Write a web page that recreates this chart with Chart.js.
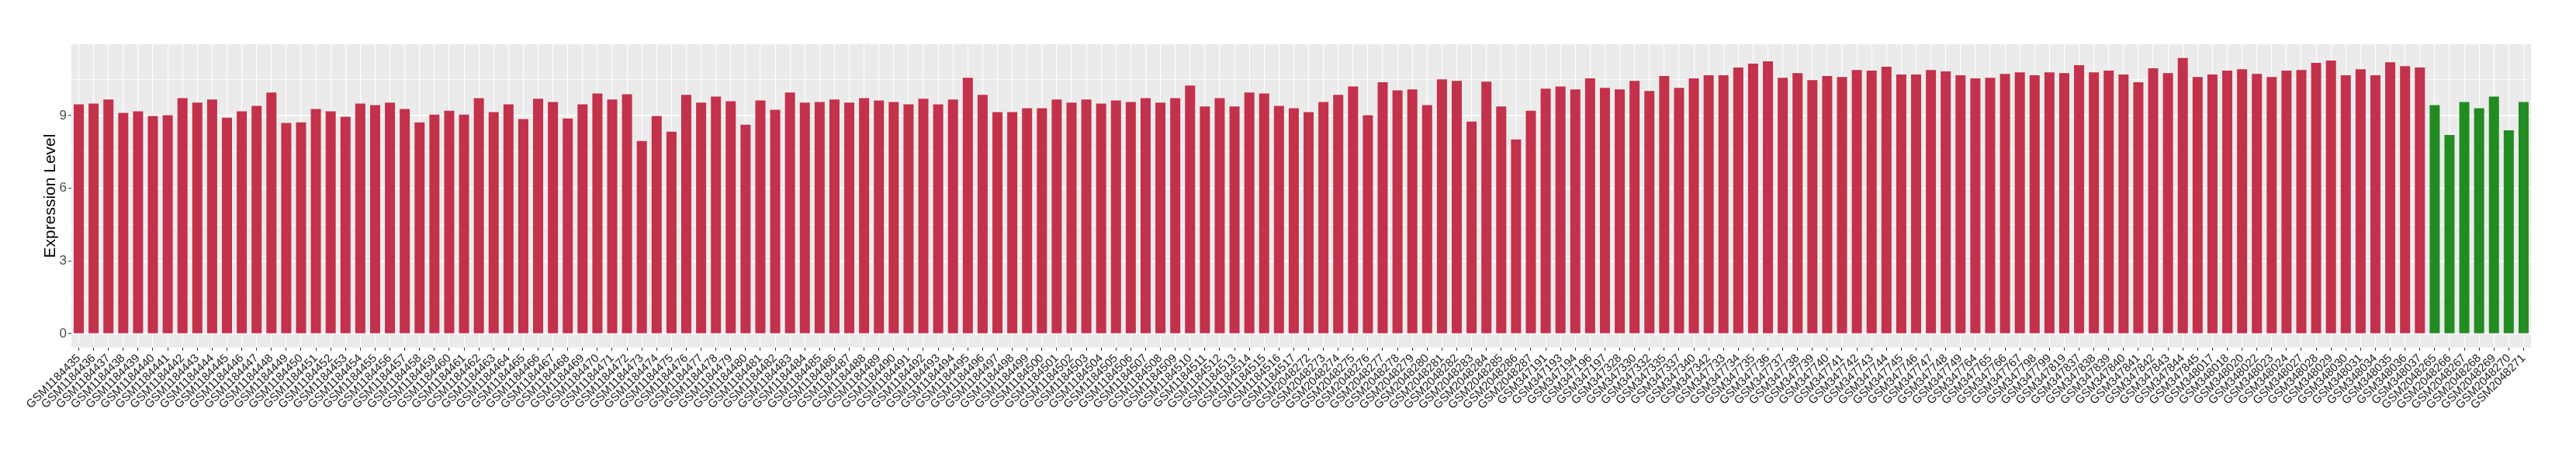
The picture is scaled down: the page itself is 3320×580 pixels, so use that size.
<!DOCTYPE html>
<html lang="en">
<head>
    <meta charset="UTF-8">
    <title>Expression Level</title>
    <script src="https://cdn.jsdelivr.net/npm/chart.js"></script>
    <style>
        body { margin: 0; background: #fff; }
        canvas { display: block; }
    </style>
</head>
<body>
    <canvas id="exprChart" width="3320" height="580"></canvas>

    <script>
        // sample ids, in plot order
        const tumorSamples = [
            'GSM1184435','GSM1184436','GSM1184437','GSM1184438','GSM1184439','GSM1184440','GSM1184441','GSM1184442','GSM1184443','GSM1184444',
            'GSM1184445','GSM1184446','GSM1184447','GSM1184448','GSM1184449','GSM1184450','GSM1184451','GSM1184452','GSM1184453','GSM1184454',
            'GSM1184455','GSM1184456','GSM1184457','GSM1184458','GSM1184459','GSM1184460','GSM1184461','GSM1184462','GSM1184463','GSM1184464',
            'GSM1184465','GSM1184466','GSM1184467','GSM1184468','GSM1184469','GSM1184470','GSM1184471','GSM1184472','GSM1184473','GSM1184474',
            'GSM1184475','GSM1184476','GSM1184477','GSM1184478','GSM1184479','GSM1184480','GSM1184481','GSM1184482','GSM1184483','GSM1184484',
            'GSM1184485','GSM1184486','GSM1184487','GSM1184488','GSM1184489','GSM1184490','GSM1184491','GSM1184492','GSM1184493','GSM1184494',
            'GSM1184495','GSM1184496','GSM1184497','GSM1184498','GSM1184499','GSM1184500','GSM1184501','GSM1184502','GSM1184503','GSM1184504',
            'GSM1184505','GSM1184506','GSM1184507','GSM1184508','GSM1184509','GSM1184510','GSM1184511','GSM1184512','GSM1184513','GSM1184514',
            'GSM1184515','GSM1184516','GSM1184517',
            'GSM2048272','GSM2048273','GSM2048274','GSM2048275','GSM2048276','GSM2048277','GSM2048278','GSM2048279','GSM2048280','GSM2048281',
            'GSM2048282','GSM2048283','GSM2048284','GSM2048285','GSM2048286','GSM2048287',
            'GSM347191','GSM347193','GSM347194','GSM347196','GSM347197','GSM347328','GSM347330','GSM347332','GSM347335','GSM347337',
            'GSM347340','GSM347342','GSM347733','GSM347734','GSM347735','GSM347736','GSM347737','GSM347738','GSM347739','GSM347740',
            'GSM347741','GSM347742','GSM347743','GSM347744','GSM347745','GSM347746','GSM347747','GSM347748','GSM347749','GSM347764',
            'GSM347765','GSM347766','GSM347767','GSM347798','GSM347799','GSM347819','GSM347837','GSM347838','GSM347839','GSM347840',
            'GSM347841','GSM347842','GSM347843','GSM347844','GSM347845','GSM348017','GSM348018','GSM348020','GSM348022','GSM348023',
            'GSM348024','GSM348027','GSM348028','GSM348029','GSM348030','GSM348031','GSM348034','GSM348035','GSM348036','GSM348037'
        ];
        const normalSamples = ['GSM2048265','GSM2048266','GSM2048267','GSM2048268','GSM2048269','GSM2048270','GSM2048271'];

        const tumorValues = [
            9.46, 9.49, 9.66, 9.11, 9.17, 8.98, 9.01, 9.72, 9.53, 9.66, 8.91, 9.17, 9.40, 9.95, 8.69, 8.72, 9.27,
            9.17, 8.95, 9.49, 9.43, 9.53, 9.27, 8.72, 9.04, 9.20, 9.04, 9.72, 9.14, 9.46, 8.85, 9.69, 9.56, 8.88,
            9.46, 9.91, 9.66, 9.88, 7.95, 8.98, 8.33, 9.85, 9.53, 9.78, 9.59, 8.62, 9.62, 9.24, 9.95, 9.53,
            9.56, 9.66, 9.53, 9.72, 9.62, 9.56, 9.46, 9.69, 9.46, 9.66, 10.56, 9.85, 9.14, 9.14, 9.30, 9.30,
            9.66, 9.53, 9.66, 9.49, 9.62, 9.56, 9.72, 9.53, 9.72, 10.24, 9.37, 9.72, 9.37, 9.95, 9.91, 9.40, 9.30,
            9.14, 9.56, 9.85, 10.20, 9.01, 10.37, 10.04, 10.08, 9.43, 10.49, 10.43, 8.75, 10.40, 9.37, 8.01, 9.20,
            10.11, 10.20, 10.08, 10.53, 10.14, 10.08, 10.43, 10.01, 10.63, 10.14, 10.53, 10.66, 10.66, 10.98, 11.14, 11.24, 10.56,
            10.75, 10.46, 10.63, 10.59, 10.88, 10.85, 11.01, 10.69, 10.69, 10.88, 10.82, 10.66, 10.53, 10.56, 10.72, 10.78,
            10.66, 10.78, 10.75, 11.08, 10.78, 10.85, 10.69, 10.37, 10.95, 10.75, 11.37, 10.59, 10.69, 10.85,
            10.91, 10.72, 10.59, 10.85, 10.88, 11.17, 11.27, 10.66, 10.91, 10.66, 11.20, 11.04, 10.98
        ];
        const normalValues = [9.43, 8.20, 9.56, 9.30, 9.78, 8.39, 9.56];

        const yTicks = [0, 3, 6, 9];
        const yMinorTicks = [1.5, 4.5, 7.5, 10.5];

        const tumorColor = '#C3314A';
        const normalColor = '#228B22';

        const labels = tumorSamples.concat(normalSamples);
        const values = tumorValues.concat(normalValues);
        const colors = tumorValues.map(() => tumorColor).concat(normalValues.map(() => normalColor));

        // grey ggplot-style panel behind the bars
        const panelBg = {
            id: 'panelBg',
            beforeDraw(chart) {
                const { ctx, chartArea: a } = chart;
                ctx.save();
                ctx.fillStyle = '#EBEBEB';
                ctx.fillRect(a.left, a.top, a.right - a.left, a.bottom - a.top);
                ctx.restore();
            }
        };

        const fontFamily = '"Liberation Sans", Arial, Helvetica, sans-serif';

        new Chart(document.getElementById('exprChart'), {
            type: 'bar',
            data: {
                labels: labels,
                datasets: [{
                    data: values,
                    backgroundColor: colors,
                    borderWidth: 0,
                    barPercentage: 0.68,
                    categoryPercentage: 1.0
                }]
            },
            options: {
                responsive: false,
                animation: false,
                events: [],
                layout: { padding: { top: 57, right: 58, left: 0, bottom: 0 } },
                plugins: {
                    legend: { display: false },
                    tooltip: { enabled: false }
                },
                scales: {
                    x: {
                        offset: true,
                        grid: {
                            offset: false,
                            color: '#FFFFFF',
                            lineWidth: 1.1,
                            drawTicks: true,
                            tickLength: 4,
                            tickColor: '#333333',
                            tickWidth: 1
                        },
                        border: { display: false },
                        ticks: {
                            autoSkip: false,
                            maxRotation: 45,
                            minRotation: 45,
                            padding: 1,
                            color: '#1A1A1A',
                            font: { family: fontFamily, size: 15 }
                        },
                        afterFit(scale) { scale.height = 132; }
                    },
                    y: {
                        min: -0.57,
                        max: 11.94,
                        afterBuildTicks(scale) {
                            scale.ticks = yTicks.concat(yMinorTicks)
                                .sort((a, b) => a - b)
                                .map(v => ({ value: v }));
                        },
                        afterFit(scale) { scale.width = 92; },
                        grid: {
                            color: '#FFFFFF',
                            lineWidth: ctx => yTicks.includes(ctx.tick && ctx.tick.value) ? 1.4 : 0.7,
                            tickLength: 4,
                            tickColor: ctx => yTicks.includes(ctx.tick && ctx.tick.value) ? '#333333' : 'rgba(0,0,0,0)',
                            tickWidth: 1
                        },
                        border: { display: false },
                        ticks: {
                            padding: 2,
                            color: '#4D4D4D',
                            font: { family: fontFamily, size: 17 },
                            callback: v => yTicks.includes(v) ? String(v) : ''
                        },
                        title: {
                            display: true,
                            text: 'Expression Level',
                            color: '#000000',
                            font: { family: fontFamily, size: 21 },
                            padding: { top: 53, bottom: 0 }
                        }
                    }
                }
            },
            plugins: [panelBg]
        });
    </script>
</body>
</html>
